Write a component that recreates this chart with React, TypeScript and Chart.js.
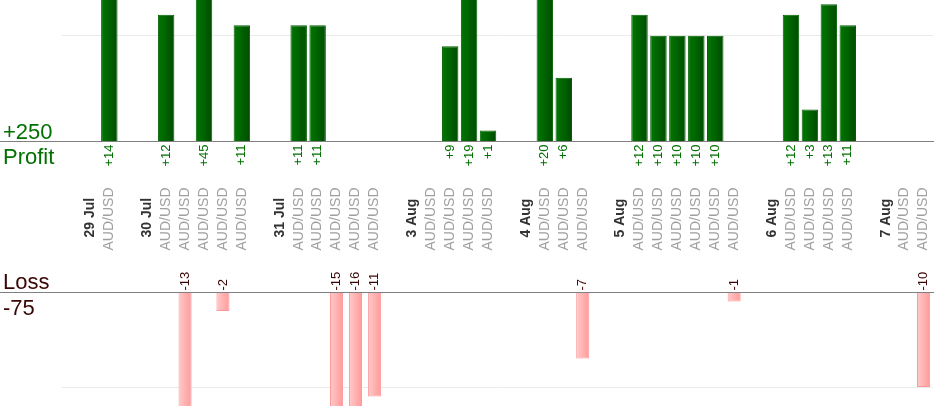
import { useEffect, useRef } from "react"
import { Chart, registerables } from "chart.js"

Chart.register(...registerables)

const FONT = "'Liberation Sans', Arial, sans-serif"

// trading days and the result (pips) of each trade that day
const days = ["29 Jul", "30 Jul", "31 Jul", "3 Aug", "4 Aug", "5 Aug", "6 Aug", "7 Aug"]
const pair = "AUD/USD"
const dayResults = [
  [14],
  [12, -13, 45, -2, 11],
  [11, 11, -15, -16, -11],
  [0, 9, 19, 1],
  [20, 6, -7],
  [12, 10, 10, 10, 10, -1],
  [12, 3, 13, 11],
  [0, -10],
]
const totalProfit = "+250"
const totalLoss = "-75"

// one slot per gap, date and trade
const labels: string[] = []
const kinds: string[] = []
const profit: (number | null)[] = []
const loss: (number | null)[] = []
days.forEach((day, d) => {
  labels.push("")
  kinds.push("gap")
  profit.push(null)
  loss.push(null)
  labels.push(day)
  kinds.push("date")
  profit.push(null)
  loss.push(null)
  dayResults[d].forEach((v) => {
    labels.push(pair)
    kinds.push("trade")
    profit.push(v > 0 ? v : null)
    loss.push(v < 0 ? v : null)
  })
})

function barGradient(ctx: any, pct: number, from: string, to: string) {
  const chart = ctx.chart
  const x = chart.scales.x
  if (!x || ctx.type !== "data") return to
  const cx = x.getPixelForValue(ctx.dataIndex)
  const w = (x.width / labels.length) * pct
  if (!isFinite(cx) || !isFinite(w) || w <= 0) return to
  const g = chart.ctx.createLinearGradient(cx - w / 2, 0, cx + w / 2, 0)
  g.addColorStop(0, from)
  g.addColorStop(1, to)
  return g
}

const labelPlugin = {
  id: "tradeLabels",
  afterDraw(chart: any) {
    const { ctx, scales, width } = chart
    const x = scales.x
    const yP = scales.yProfit
    const yL = scales.yLoss
    const zeroP = Math.round(yP.getPixelForValue(0)) + 0.5
    const zeroL = Math.round(yL.getPixelForValue(0)) + 0.5
    ctx.save()

    // zero lines run the whole width
    ctx.strokeStyle = "#808080"
    ctx.lineWidth = 1
    ctx.beginPath()
    ctx.moveTo(0, zeroP)
    ctx.lineTo(width, zeroP)
    ctx.moveTo(0, zeroL)
    ctx.lineTo(width, zeroL)
    ctx.stroke()

    // totals on the left
    ctx.font = `22px ${FONT}`
    ctx.textAlign = "left"
    ctx.textBaseline = "alphabetic"
    ctx.fillStyle = "#007000"
    ctx.fillText(totalProfit, 3, zeroP - 3)
    ctx.fillText("Profit", 3, zeroP + 22)
    ctx.fillStyle = "#3a0505"
    ctx.fillText("Loss", 3, zeroL - 4)
    ctx.fillText(totalLoss, 3, zeroL + 22)

    const vertical = (text: string, px: number, py: number, align: CanvasTextAlign) => {
      ctx.save()
      ctx.translate(px, py)
      ctx.rotate(-Math.PI / 2)
      ctx.textAlign = align
      ctx.textBaseline = "middle"
      ctx.fillText(text, 0, 0)
      ctx.restore()
    }

    labels.forEach((label, i) => {
      const px = x.getPixelForValue(i)
      if (kinds[i] === "date") {
        ctx.font = `bold 14px ${FONT}`
        ctx.fillStyle = "#333333"
        vertical(label, px, zeroP + 96, "left")
      } else if (kinds[i] === "trade") {
        ctx.font = `14px ${FONT}`
        ctx.fillStyle = "#a0a0a0"
        vertical(label, px, zeroP + 109, "left")
        ctx.font = `13px ${FONT}`
        if (profit[i] != null) {
          ctx.fillStyle = "#007000"
          vertical("+" + profit[i], px, zeroP + 3, "right")
        }
        if (loss[i] != null) {
          ctx.fillStyle = "#3a0505"
          vertical(String(loss[i]), px, zeroL - 2, "left")
        }
      }
    })
    ctx.restore()
  },
}

const hiddenScale = {
  ticks: { display: false },
  border: { display: false },
  grid: { drawTicks: false, color: "#ebebeb" },
}

export default function App() {
  const canvasRef = useRef<HTMLCanvasElement>(null)

  useEffect(() => {
    if (!canvasRef.current) return
    const chart = new Chart(canvasRef.current, {
      type: "bar",
      data: {
        labels,
        datasets: [
          {
            label: "Profit",
            data: profit,
            yAxisID: "yProfit",
            grouped: false,
            barPercentage: 0.87,
            categoryPercentage: 1,
            backgroundColor: (c: any) => barGradient(c, 0.87, "#007800", "#004c00"),
            borderColor: "#006000",
            borderWidth: 1,
          },
          {
            label: "Loss",
            data: loss,
            yAxisID: "yLoss",
            grouped: false,
            barPercentage: 0.69,
            categoryPercentage: 1,
            backgroundColor: (c: any) => barGradient(c, 0.69, "#ffcaca", "#ff9a9a"),
            borderColor: "#ff9999",
            borderWidth: 1,
          },
        ],
      },
      options: {
        animation: false,
        responsive: true,
        maintainAspectRatio: false,
        layout: { padding: { left: 62, right: 1, top: 0, bottom: 14 } },
        plugins: { legend: { display: false }, tooltip: { enabled: false } },
        scales: {
          x: { type: "category", display: false },
          yProfit: {
            ...hiddenScale,
            type: "linear",
            position: "left",
            stack: "panels",
            stackWeight: 141,
            weight: 3,
            min: 0,
            max: 13.4,
            afterBuildTicks: (s: any) => {
              s.ticks = [{ value: 10 }]
            },
          },
          yGap: {
            type: "linear",
            display: false,
            position: "left",
            stack: "panels",
            stackWeight: 151,
            weight: 2,
            min: 0,
            max: 1,
          },
          yLoss: {
            ...hiddenScale,
            type: "linear",
            position: "left",
            stack: "panels",
            stackWeight: 114,
            weight: 1,
            min: -12,
            max: 0,
            afterBuildTicks: (s: any) => {
              s.ticks = [{ value: -10 }]
            },
          },
        },
      } as any,
      plugins: [labelPlugin],
    })
    return () => chart.destroy()
  }, [])

  return (
    <div style={{ position: "absolute", left: 0, top: 0, width: 934, height: 420 }}>
      <canvas ref={canvasRef} />
    </div>
  )
}
